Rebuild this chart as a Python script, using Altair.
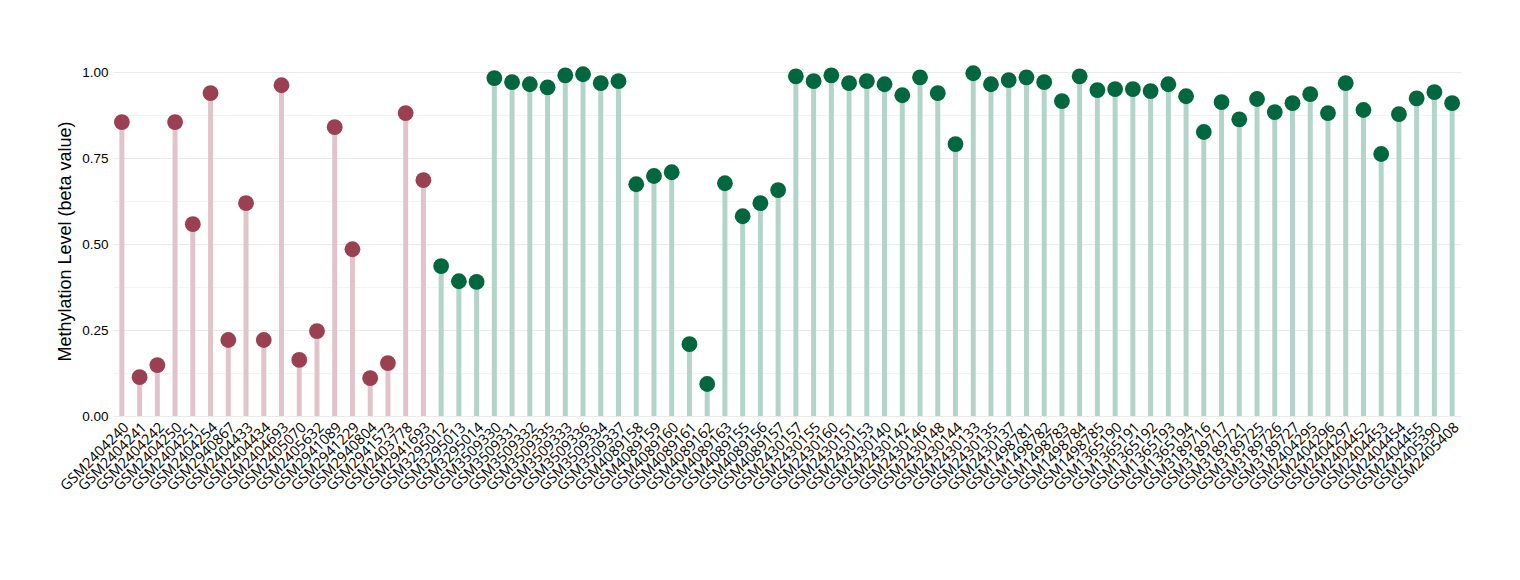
import altair as alt
import pandas as pd

samples = [
    "GSM2404240", "GSM2404241", "GSM2404242", "GSM2404250", "GSM2404251", "GSM2404254",
    "GSM2940867", "GSM2404433", "GSM2404434", "GSM2404693", "GSM2405070", "GSM2405632",
    "GSM2941089", "GSM2941229", "GSM2940804", "GSM2941573", "GSM2403778", "GSM2941693",
    "GSM3295012", "GSM3295013", "GSM3295014", "GSM3509330", "GSM3509331", "GSM3509332",
    "GSM3509335", "GSM3509333", "GSM3509336", "GSM3509334", "GSM3509337", "GSM4089158",
    "GSM4089159", "GSM4089160", "GSM4089161", "GSM4089162", "GSM4089163", "GSM4089155",
    "GSM4089156", "GSM4089157", "GSM2430157", "GSM2430155", "GSM2430160", "GSM2430151",
    "GSM2430153", "GSM2430140", "GSM2430142", "GSM2430146", "GSM2430148", "GSM2430144",
    "GSM2430133", "GSM2430135", "GSM2430137", "GSM1498781", "GSM1498782", "GSM1498783",
    "GSM1498784", "GSM1498785", "GSM1365190", "GSM1365191", "GSM1365192", "GSM1365193",
    "GSM1365194", "GSM3189716", "GSM3189717", "GSM3189721", "GSM3189725", "GSM3189726",
    "GSM3189727", "GSM2404295", "GSM2404296", "GSM2404297", "GSM2404452", "GSM2404453",
    "GSM2404454", "GSM2404455", "GSM2405390", "GSM2405408",
]

values = [
    0.855, 0.113, 0.148, 0.855, 0.558, 0.939, 0.221, 0.619, 0.221, 0.962,
    0.163, 0.247, 0.840, 0.485, 0.110, 0.154, 0.881, 0.686,
    0.436, 0.392, 0.390, 0.983, 0.971, 0.965, 0.956, 0.991, 0.994, 0.968,
    0.974, 0.674, 0.698, 0.709, 0.209, 0.093, 0.677, 0.581, 0.619, 0.657,
    0.988, 0.974, 0.991, 0.968, 0.974, 0.965, 0.933, 0.985, 0.939, 0.791,
    0.997, 0.965, 0.977, 0.985, 0.971, 0.916, 0.988, 0.948, 0.951, 0.951,
    0.945, 0.965, 0.930, 0.826, 0.913, 0.863, 0.922, 0.884, 0.910, 0.936,
    0.881, 0.968, 0.890, 0.762, 0.878, 0.924, 0.942, 0.910,
]

groups = ["Group 1"] * 18 + ["Group 2"] * 58

group_names = ["Group 1", "Group 2"]
dot_colors = ["#9a4050", "#00673f"]
stem_colors = ["#e1c4cb", "#b3d5c9"]

df = pd.DataFrame({"sample": samples, "value": values, "group": groups})

xenc = alt.X(
    "sample:N",
    sort=None,
    scale=alt.Scale(paddingInner=0, paddingOuter=0),
    axis=alt.Axis(
        title=None,
        labelAngle=-45,
        labelAlign="right",
        labelBaseline="top",
        labelFont="Open Sans",
        labelFontSize=14.5,
        labelColor="#000000",
        labelPadding=4,
        ticks=False,
        domain=False,
        grid=False,
        labelOverlap=False,
    ),
)

grid_vals = [0, 0.125, 0.25, 0.375, 0.5, 0.625, 0.75, 0.875, 1.0]

yenc = alt.Y(
    "value:Q",
    scale=alt.Scale(domain=[0, 1.05], nice=False, zero=True),
    axis=alt.Axis(
        title="Methylation Level (beta value)",
        values=grid_vals,
        labelExpr="datum.value % 0.25 == 0 ? format(datum.value, '.2f') : ''",
        labelFont="Liberation Sans",
        labelFontSize=13.5,
        labelColor="#000000",
        labelPadding=5,
        ticks=False,
        domain=False,
        grid=True,
        gridColor={
            "condition": {"test": "datum.value % 0.25 == 0", "value": "#ebebeb"},
            "value": "#f4f4f4",
        },
        gridWidth=1,
        titleFont="Liberation Sans",
        titleFontSize=18,
        titleFontWeight="normal",
        titleColor="#000000",
        titleX=-48,
        titleY=186,
        titleAngle=-90,
        titleAlign="center",
        titleBaseline="middle",
    ),
)

stems = alt.Chart(df).mark_rule(strokeWidth=5).encode(
    x=xenc,
    y=yenc,
    y2=alt.datum(0),
    color=alt.Color(
        "group:N",
        scale=alt.Scale(domain=group_names, range=stem_colors),
        legend=None,
    ),
)

dots = alt.Chart(df).mark_circle(size=250, opacity=1).encode(
    x=xenc,
    y=yenc,
    color=alt.Color(
        "group:N",
        scale=alt.Scale(domain=group_names, range=dot_colors),
        legend=None,
    ),
)

chart = (
    alt.layer(stems, dots)
    .resolve_scale(color="independent")
    .properties(
        width=1348,
        height=361,
        background="white",
        autosize=alt.AutoSizeParams(type="none"),
        padding={"left": 105, "top": 47, "right": 40, "bottom": 120},
    )
    .configure_view(strokeWidth=0, stroke="transparent")
)

chart.save("out.html", embed_options={"renderer": "svg", "actions": False})
